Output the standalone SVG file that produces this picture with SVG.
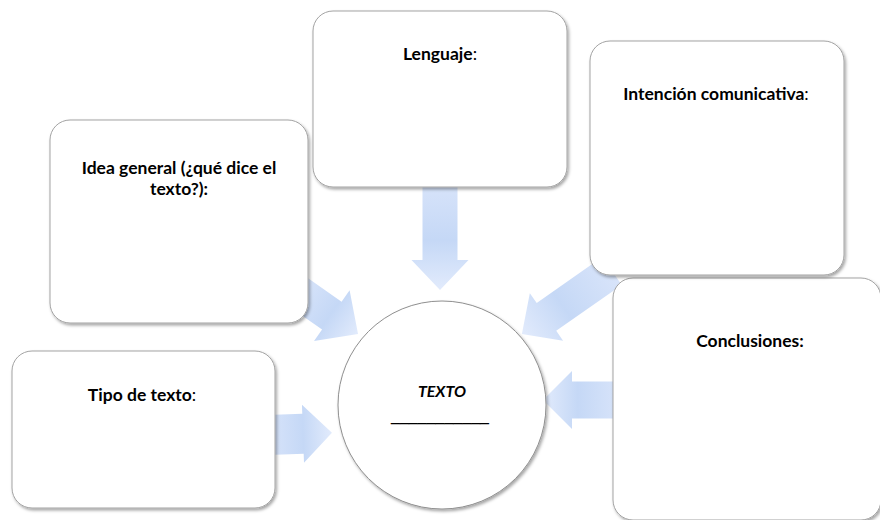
<svg xmlns="http://www.w3.org/2000/svg" width="880" height="520" viewBox="0 0 880 520">
  <defs>
    <linearGradient id="arrowGrad" x1="0" y1="0" x2="1" y2="0">
      <stop offset="0" stop-color="#d8e4fa"/>
      <stop offset="0.55" stop-color="#c5d8f6"/>
      <stop offset="1" stop-color="#e2ebfc"/>
    </linearGradient>
    <filter id="shadow" x="-10%" y="-10%" width="125%" height="125%">
      <feDropShadow dx="1.5" dy="2" stdDeviation="1.5" flood-color="#000" flood-opacity="0.35"/>
    </filter>
  </defs>
  <style>
    .box { fill: #ffffff; stroke: #a3a3a3; stroke-width: 1; filter: url(#shadow); }
    .circle { fill: #ffffff; stroke: #8f8f8f; stroke-width: 1; filter: url(#shadow); }
    .arrow { fill: url(#arrowGrad); stroke: none; }
    .label { font-family: Lato, "Open Sans", "Liberation Sans", sans-serif; font-size: 17.5px; font-weight: bold; fill: #000000; text-anchor: middle; }
    .colon { font-weight: normal; }
    .center { font-family: Lato, "Open Sans", "Liberation Sans", sans-serif; font-size: 16px; font-weight: bold; font-style: italic; fill: #000000; text-anchor: middle; }
    .blank { font-family: "Liberation Sans", Arial, sans-serif; font-size: 16px; fill: #000000; text-anchor: middle; }
  </style>
  <rect width="880" height="520" fill="#ffffff"/>

  <g id="connectors">
    <!-- Lenguaje -> TEXTO -->
    <path class="arrow" transform="translate(440,180) rotate(90)" d="M0,-17.5 L80,-17.5 L80,-28.5 L110,0 L80,28.5 L80,17.5 L0,17.5 Z"/>
    <!-- Idea general -> TEXTO -->
    <path class="arrow" transform="translate(296.6,291) rotate(35)" d="M0,-17 L43,-17 L43,-31 L75,0 L43,31 L43,17 L0,17 Z"/>
    <!-- Intención comunicativa -> TEXTO -->
    <path class="arrow" transform="translate(612,271) rotate(145)" d="M0,-17 L80,-17 L80,-29 L110,0 L80,29 L80,17 L0,17 Z"/>
    <!-- Conclusiones -> TEXTO -->
    <path class="arrow" transform="translate(620,400) rotate(180)" d="M0,-18.5 L48,-18.5 L48,-29 L77,0 L48,29 L48,18.5 L0,18.5 Z"/>
    <!-- Tipo de texto -> TEXTO -->
    <path class="arrow" transform="translate(268,435) rotate(-2)" d="M0,-20 L35,-20 L35,-29 L64,0 L35,29 L35,20 L0,20 Z"/>
  </g>

  <g id="node-texto">
    <circle class="circle" cx="442" cy="405" r="104"/>
    <text class="center" x="442" y="397">TEXTO</text>
    <text class="blank" x="440" y="421">___________</text>
  </g>

  <g id="node-idea">
    <rect class="box" x="50" y="120" width="258" height="203" rx="20" ry="20"/>
    <text class="label" x="179" y="174">Idea general (¿qué dice el</text>
    <text class="label" x="179" y="195">texto?):</text>
  </g>

  <g id="node-lenguaje">
    <rect class="box" x="313" y="11" width="254" height="176" rx="20" ry="20"/>
    <text class="label" x="440" y="60">Lenguaje<tspan class="colon">:</tspan></text>
  </g>

  <g id="node-tipo">
    <rect class="box" x="12" y="351" width="263" height="157" rx="20" ry="20"/>
    <text class="label" x="142" y="401">Tipo de texto<tspan class="colon">:</tspan></text>
  </g>

  <g id="node-conclusiones">
    <rect class="box" x="613" y="278" width="268" height="242" rx="20" ry="20"/>
    <text class="label" x="750" y="347">Conclusiones:</text>
  </g>

  <g id="node-intencion">
    <rect class="box" x="590" y="41" width="254" height="234" rx="20" ry="20"/>
    <text class="label" x="716" y="100">Intención comunicativa<tspan class="colon">:</tspan></text>
  </g>
</svg>
